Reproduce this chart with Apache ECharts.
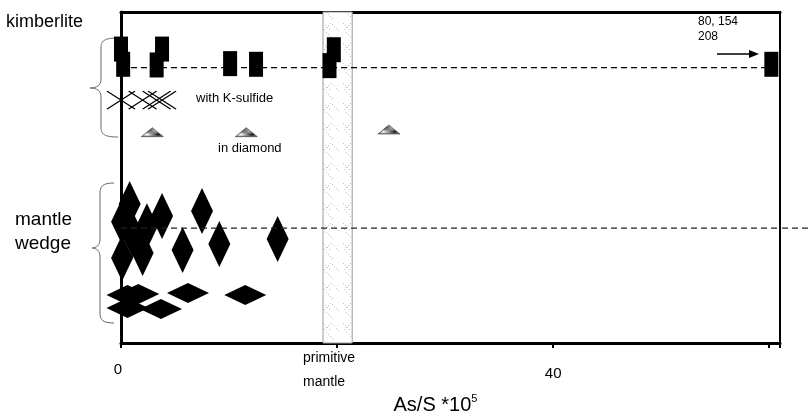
<!DOCTYPE html>
<html>
<head>
<meta charset="utf-8">
<script src="https://cdn.jsdelivr.net/npm/echarts@6/dist/echarts.min.js"></script>
<style>
  html, body { margin: 0; padding: 0; background: #fff; }
  #chart { width: 812px; height: 419px; }
</style>
</head>
<body>
<div id="chart"></div>
<script>
// x = As/S *10^5, y = arbitrary row height (0 bottom .. 100 top)
var xTicks = [0, 20, 40, 60];
var tickText = ['0', 'primitive\nmantle', '40', ''];
var primitiveBand = [18.7, 21.4];

// kimberlite sulfides (bars), last one is off-scale (80, 154, 208)
var kimbX = [0, 0.2, 3.8, 3.3, 10.1, 12.5, 19.7, 19.3, 60.2];
var kimbY = [88.8, 84.2, 88.8, 84.0, 84.4, 84.2, 88.6, 83.8, 84.2];
var kimbLineY = 83.2;

// with K-sulfide (crosses)
var kSulfX = [0, 2.0, 3.3, 3.8];
var kSulfY = [73.4, 73.4, 73.4, 73.4];

// in diamond (triangles)
var inDiaX = [2.9, 11.6, 24.8];
var inDiaY = [63.7, 63.7, 64.5];

// mantle wedge, upright diamonds
var wedgeX = [0.8, 0.1, 2.4, 3.8, 7.5, 1.1, 5.7, 9.1, 14.5, 0.1, 2.0];
var wedgeY = [42.0, 36.6, 35.3, 38.4, 39.9, 32.6, 28.1, 29.9, 31.4, 25.7, 27.2];
// mantle wedge, flat diamonds
var wedgeFlatX = [0.6, 1.6, 6.2, 11.5, 0.6, 3.7];
var wedgeFlatY = [14.5, 14.8, 15.1, 14.5, 10.6, 10.3];
var wedgeLineY = 34.7;

function pairs(xs, ys) {
  var out = [];
  for (var i = 0; i < xs.length; i++) out.push([xs[i], ys[i]]);
  return out;
}

// patterns
function bandPattern() {
  var c = document.createElement('canvas');
  c.width = 20; c.height = 20;
  var ctx = c.getContext('2d');
  ctx.fillStyle = '#fff';
  ctx.fillRect(0, 0, 20, 20);
  ctx.fillStyle = '#c4c4c4';
  for (var i = 3; i < 11; i += 2) {
    ctx.fillRect(i, i, 1, 1);
    ctx.fillRect(13 - i, i, 1, 1);
  }
  for (var j = 12; j < 19; j += 2) {
    ctx.fillRect(j, j - 8, 1, 1);
    ctx.fillRect(j - 6, j, 1, 1);
  }
  return c;
}
function dotPattern() {
  var c = document.createElement('canvas');
  c.width = 2; c.height = 2;
  var ctx = c.getContext('2d');
  ctx.fillStyle = '#fff';
  ctx.fillRect(0, 0, 2, 2);
  ctx.fillStyle = '#111';
  ctx.fillRect(0, 0, 1, 1);
  ctx.fillRect(1, 1, 1, 1);
  return c;
}

// curly brace, opening to the right
function brace(x0, top, mid, bot, xs, xt) {
  var st = { stroke: '#666', lineWidth: 1, fill: null };
  return [
    { type: 'bezierCurve', shape: { x1: x0, y1: top, x2: xs, y2: top + 10, cpx1: xs + 3, cpy1: top, cpx2: xs, cpy2: top + 3 }, style: st },
    { type: 'line', shape: { x1: xs, y1: top + 10, x2: xs, y2: mid - 8 }, style: st },
    { type: 'bezierCurve', shape: { x1: xs, y1: mid - 8, x2: xt, y2: mid, cpx1: xs, cpy1: mid - 3, cpx2: xs - 4, cpy2: mid }, style: st },
    { type: 'bezierCurve', shape: { x1: xt, y1: mid, x2: xs, y2: mid + 8, cpx1: xs - 4, cpy1: mid, cpx2: xs, cpy2: mid + 3 }, style: st },
    { type: 'line', shape: { x1: xs, y1: mid + 8, x2: xs, y2: bot - 10 }, style: st },
    { type: 'bezierCurve', shape: { x1: xs, y1: bot - 10, x2: x0, y2: bot, cpx1: xs, cpy1: bot - 3, cpx2: xs + 3, cpy2: bot }, style: st }
  ];
}

var chart = echarts.init(document.getElementById('chart'));
var font = '"Liberation Sans", Arial, sans-serif';

var graphics = [
  { type: 'text', left: 6, top: 13, style: { text: 'kimberlite', font: '18px ' + font, fill: '#000' } },
  { type: 'text', left: 15, top: 208, style: { text: 'mantle\nwedge', font: '19px ' + font, fill: '#000', lineHeight: 24 } },
  { type: 'text', left: 196, top: 92, style: { text: 'with K-sulfide', font: '13px ' + font, fill: '#000' } },
  { type: 'text', left: 218, top: 142, style: { text: 'in diamond', font: '13px ' + font, fill: '#000' } },
  { type: 'text', left: 698, top: 14, style: { text: '80, 154\n208', font: '12px ' + font, fill: '#000', lineHeight: 15 } },
  { type: 'line', shape: { x1: 717, y1: 54, x2: 752, y2: 54 }, style: { stroke: '#000', lineWidth: 1.5 } },
  { type: 'polygon', shape: { points: [[759, 54], [749, 50], [749, 58]] }, style: { fill: '#000' } }
].concat(brace(118, 38, 88, 137, 101, 90), brace(114, 183, 248, 323, 100, 92));

var solid = { color: '#000', opacity: 1 };

chart.setOption({
  animation: false,
  textStyle: { fontFamily: font, color: '#000' },
  grid: {
    left: 121, right: 32, top: 12, bottom: 76,
    outerBoundsMode: 'none',
    show: true, borderColor: '#000', borderWidth: 2
  },
  xAxis: [{
    type: 'value',
    min: 0,
    max: 61,
    interval: 20,
    name: 'As/S *10{s|5}',
    nameLocation: 'middle',
    nameGap: 38,
    nameTextStyle: {
      fontSize: 20, color: '#000', padding: [0, 30, 0, 0],
      rich: { s: { fontSize: 11, padding: [0, 0, 12, 0] } }
    },
    axisLine: { lineStyle: { color: '#000', width: 3 } },
    axisTick: { show: true, length: 5, lineStyle: { color: '#000', width: 2 } },
    splitLine: { show: false },
    axisLabel: {
      margin: 3,
      color: '#000',
      fontSize: 14,
      formatter: function (v) {
        var i = xTicks.indexOf(v);
        if (i < 0 || !tickText[i]) return '';
        if (i === 0) return '{a|' + tickText[i] + '}';
        if (i === 1) return '{p|' + tickText[i] + '}';
        return '{b|' + tickText[i] + '}';
      },
      rich: {
        a: { fontSize: 15, padding: [16, 6, 0, 0] },
        b: { fontSize: 15, padding: [20, 0, 0, 0] },
        p: { fontSize: 14, lineHeight: 24, align: 'left', padding: [0, 16, 0, 0] }
      }
    }
  }, {
    type: 'value',
    position: 'top',
    min: 0,
    max: 61,
    axisLine: { lineStyle: { color: '#000', width: 3 } },
    axisTick: { show: false },
    axisLabel: { show: false },
    splitLine: { show: false }
  }],
  yAxis: {
    type: 'value',
    min: 0,
    max: 100,
    axisLine: { show: true, lineStyle: { color: '#000', width: 3 } },
    axisTick: { show: false },
    axisLabel: { show: false },
    splitLine: { show: false }
  },
  graphic: graphics,
  series: [
    {
      name: 'band',
      type: 'line',
      data: [],
      markArea: {
        silent: true,
        itemStyle: { color: { image: bandPattern(), repeat: 'repeat' }, borderColor: '#999', borderWidth: 1, opacity: 1 },
        data: [[{ xAxis: primitiveBand[0] }, { xAxis: primitiveBand[1] }]]
      }
    },
    {
      name: 'kimberlite level',
      type: 'line',
      data: [[0, kimbLineY], [60, kimbLineY]],
      symbol: 'none',
      lineStyle: { color: '#000', width: 1.3, type: [6, 4] }
    },
    {
      name: 'wedge level',
      type: 'line',
      data: [[0, wedgeLineY], [61, wedgeLineY]],
      symbol: 'none',
      lineStyle: { color: '#222', width: 1.2, type: [6, 4] }
    },
    {
      name: 'kimberlite',
      type: 'scatter',
      data: pairs(kimbX, kimbY),
      symbol: 'rect',
      symbolSize: [14, 25],
      clip: false,
      itemStyle: solid
    },
    {
      name: 'with K-sulfide',
      type: 'scatter',
      data: pairs(kSulfX, kSulfY),
      symbol: 'path://M0,0L28,18M0,18L28,0',
      symbolSize: [28, 18],
      itemStyle: { color: 'rgba(0,0,0,0)', borderColor: '#000', borderWidth: 1.2, opacity: 1 }
    },
    {
      name: 'in diamond',
      type: 'scatter',
      data: pairs(inDiaX, inDiaY),
      symbol: 'triangle',
      symbolSize: [22, 9],
      itemStyle: { color: { image: dotPattern(), repeat: 'repeat' }, borderColor: '#222', borderWidth: 0.5, opacity: 1 }
    },
    {
      name: 'mantle wedge',
      type: 'scatter',
      data: pairs(wedgeX, wedgeY),
      symbol: 'diamond',
      symbolSize: [22, 46],
      clip: false,
      itemStyle: solid
    },
    {
      name: 'mantle wedge flat',
      type: 'scatter',
      data: pairs(wedgeFlatX, wedgeFlatY),
      symbol: 'diamond',
      symbolSize: [42, 20],
      clip: false,
      itemStyle: solid
    }
  ]
});

// the wedge level line runs on past the right frame to the page edge
var p = chart.convertToPixel({ xAxisIndex: 0, yAxisIndex: 0 }, [61, wedgeLineY]);
chart.setOption({
  graphic: graphics.concat([{
    type: 'line',
    shape: { x1: p[0] + 2, y1: p[1], x2: 812, y2: p[1] },
    style: { stroke: '#222', lineWidth: 1.2, lineDash: [6, 4] }
  }])
});
</script>
</body>
</html>
